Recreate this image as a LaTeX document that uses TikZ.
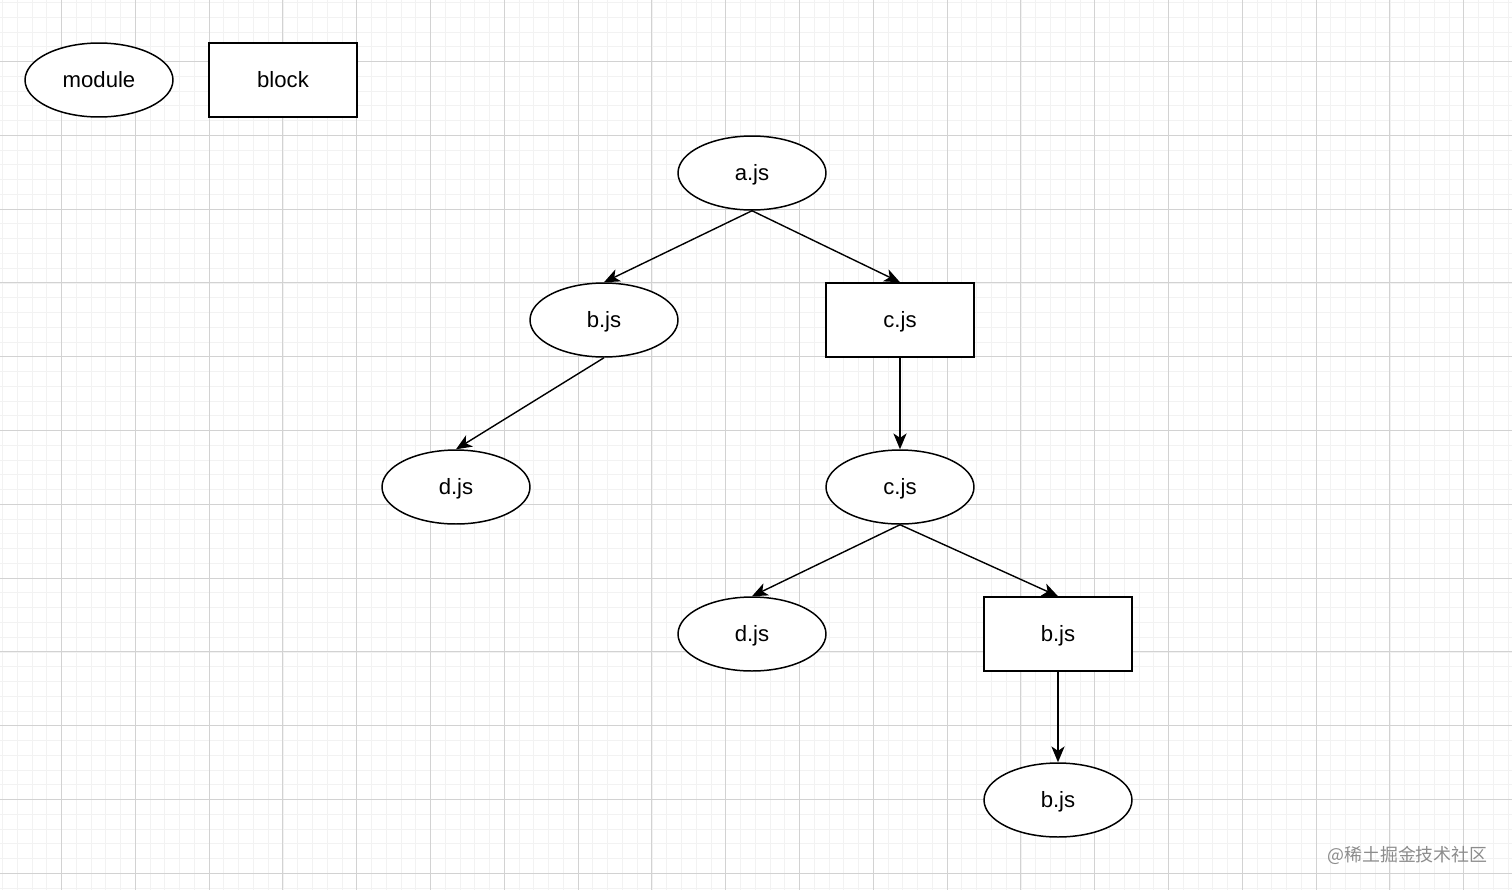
\documentclass[tikz,border=0pt]{standalone}
\usepackage{xcolor}
\usepackage{fontspec}
\setmainfont{Liberation Sans}
\newfontfamily\cjkfont{Noto Sans CJK SC}
\usepackage{tikz}
\usetikzlibrary{shapes.geometric,arrows.meta,positioning}

\definecolor{gridminor}{HTML}{F2F2F2}
\definecolor{gridmajor}{HTML}{D2D2D2}
\definecolor{markgray}{HTML}{8C8C8C}

\tikzset{
  modnode/.style={ellipse, draw, line width=0.85pt, fill=white, minimum width=2.96cm, minimum height=1.48cm, inner sep=0pt, text height=9pt, text depth=0pt, font=\fontsize{12.6}{15}\selectfont},
  blocknode/.style={rectangle, draw, line width=0.85pt, fill=white, minimum width=2.96cm, minimum height=1.48cm, inner sep=0pt, text height=9pt, text depth=0pt, font=\fontsize{12.6}{15}\selectfont},
  dep/.style={-{Stealth[length=9pt, width=7.5pt, inset=2.5pt]}, line width=0.8pt}
}

\begin{document}
\begin{tikzpicture}[x=0.02cm, y=-0.02cm]
\useasboundingbox (0,0) rectangle (1512,890);
\fill[white] (0,0) rectangle (1512,890);
% background grid
\foreach \i in {0,...,102} \draw[gridminor, line width=0.5pt] (2.5+\i*14.76,0) -- (2.5+\i*14.76,890);
\foreach \i in {0,...,60} \draw[gridminor, line width=0.5pt] (0,2.5+\i*14.76) -- (1512,2.5+\i*14.76);
\foreach \i in {0,...,20} \draw[gridmajor, line width=0.5pt] (61.5+\i*73.8,0) -- (61.5+\i*73.8,890);
\foreach \i in {0,...,11} \draw[gridmajor, line width=0.5pt] (0,61.5+\i*73.8) -- (1512,61.5+\i*73.8);

% legend
\node[modnode] (legmod) at (99,80) {module};
\node[blocknode] (legblock) at (283,80) {block};

% tree
\node[modnode] (a) at (752,173) {a.js};
\node[modnode] (b) at (604,320) {b.js};
\node[blocknode] (cblk) at (900,320) {c.js};
\node[modnode] (d) at (456,487) {d.js};
\node[modnode] (c) at (900,487) {c.js};
\node[modnode] (dd) at (752,634) {d.js};
\node[blocknode] (bblk) at (1058,634) {b.js};
\node[modnode] (bb) at (1058,800) {b.js};

\draw[dep] (a.south) -- (b.north);
\draw[dep] (a.south) -- (cblk.north);
\draw[dep] (b.south) -- (d.north);
\draw[dep] (cblk.south) -- (c.north);
\draw[dep] (c.south) -- (dd.north);
\draw[dep] (c.south) -- (bblk.north);
\draw[dep] (bblk.south) -- (bb.north);

\node[font=\cjkfont\fontsize{10.2}{12}\selectfont, text=markgray, anchor=east, inner sep=0pt] (mark) at (1488,855) {@稀土掘金技术社区};
\end{tikzpicture}
\end{document}
